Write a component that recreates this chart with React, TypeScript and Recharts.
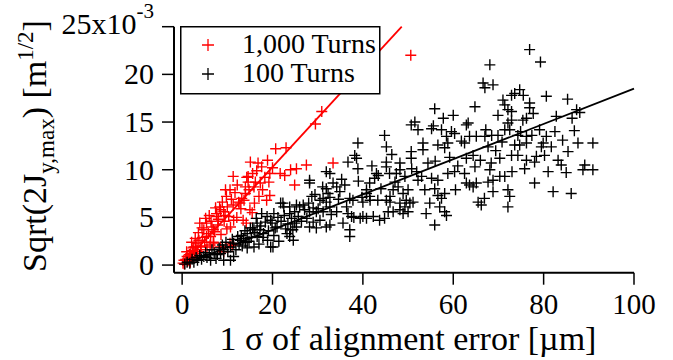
import { ScatterChart, Scatter, XAxis, YAxis, ReferenceLine } from "recharts";

// sqrt(2Jy,max) [x10^-3 m^1/2] vs 1 sigma alignment error [um]
const TURNS_1000: [number, number][] = [
  [0.2,0.2],[0.4,0.5],[0.5,0.1],[0.8,0.6],[1.0,1.4],[1.1,0.9],[1.2,0.4],[1.5,0.5],[1.6,1.1],[1.8,0.3],
  [1.9,1.2],[2.0,0.8],[2.1,2.4],[2.2,0.9],[2.3,1.5],[2.4,1.8],[2.6,1.9],[2.8,1.2],[2.9,2.8],[3.0,1.9],
  [3.3,2.3],[3.4,1.4],[3.6,3.4],[3.7,2.6],[3.9,4.4],[4.1,1.6],[4.2,2.0],[4.4,3.9],[4.5,2.9],[4.8,3.7],
  [5.0,2.4],[5.2,4.9],[5.4,4.4],[5.4,3.0],[5.5,1.9],[5.8,3.3],[6.0,5.2],[6.2,2.1],[6.3,3.0],[6.4,4.6],
  [6.6,4.0],[6.9,2.4],[6.9,3.7],[7.0,2.3],[7.2,3.5],[7.4,6.0],[7.6,5.4],[7.7,5.1],[7.9,4.2],[8.0,4.8],
  [8.3,6.1],[8.5,5.8],[8.5,1.9],[8.6,3.2],[8.9,6.6],[9.2,5.6],[9.2,1.4],[9.3,4.6],[9.5,5.2],[9.6,7.9],
  [9.8,7.2],[9.9,3.8],[10.0,6.1],[10.3,5.1],[10.6,7.9],[10.6,2.3],[10.7,4.0],[10.9,6.9],[11.1,2.1],[11.3,9.3],
  [11.3,6.3],[11.4,4.7],[11.7,7.6],[12.1,5.0],[12.2,8.4],[12.5,6.6],[12.8,6.5],[13.0,5.9],[13.2,7.0],[13.5,4.7],
  [13.7,6.8],[14.0,7.5],[14.0,8.2],[14.2,4.4],[14.3,9.2],[14.6,9.3],[14.6,8.7],[14.8,7.9],[15.0,5.8],[15.1,10.8],
  [15.5,5.5],[15.6,9.6],[15.9,8.2],[16.0,6.5],[16.2,8.7],[16.5,9.9],[16.8,10.7],[17.0,7.2],[17.3,8.6],[17.6,10.3],
  [17.8,7.9],[18.3,9.2],[18.7,6.8],[18.9,11.0],[19.2,8.7],[19.4,9.6],[19.4,7.3],[20.0,10.2],[20.7,12.2],[21.7,9.6],
  [22.7,9.4],[23.0,12.3],[24.0,10.0],[24.9,8.4],[25.3,10.1],[27.5,10.5],[29.5,14.8],[30.9,16.1],[33.4,10.7],[50.6,22.0],
];

const TURNS_100: [number, number][] = [
  [0.6,0.1],[1.1,0.3],[1.7,0.2],[2.2,0.6],[2.6,0.3],[3.1,0.8],[3.4,0.5],[3.9,1.0],[4.3,0.6],[4.8,0.9],
  [5.2,1.3],[5.5,0.8],[6.0,1.1],[6.3,0.5],[6.6,1.6],[7.1,1.2],[7.5,0.7],[7.8,1.1],[8.2,1.8],[8.5,1.2],
  [8.9,2.1],[9.2,1.6],[9.2,0.5],[9.7,2.4],[10.1,1.4],[10.7,1.9],[10.7,0.5],[11.1,2.7],[11.4,2.3],[11.4,0.9],
  [11.9,1.6],[12.3,3.0],[12.6,2.2],[12.9,2.6],[13.1,3.1],[13.3,2.0],[13.6,2.8],[13.9,3.6],[14.0,2.4],[14.4,3.3],
  [14.4,1.8],[14.8,2.5],[15.1,3.9],[15.3,2.9],[15.6,3.9],[15.9,3.7],[15.9,1.9],[16.1,3.4],[16.4,4.9],[16.6,4.4],
  [16.6,3.0],[17.0,2.2],[17.2,3.7],[17.4,4.1],[17.6,5.4],[17.9,2.9],[18.0,3.3],[18.4,4.5],[18.8,5.1],[18.9,2.6],
  [19.1,3.6],[19.6,4.7],[19.6,1.9],[19.9,4.4],[20.1,1.9],[20.3,5.4],[20.3,3.1],[20.6,3.9],[21.0,4.0],[21.2,5.0],
  [21.4,2.5],[21.8,6.5],[21.9,4.6],[22.3,6.5],[22.5,6.1],[22.6,5.2],[22.9,3.8],[23.2,3.3],[23.4,4.3],[23.8,5.4],
  [23.8,3.0],[23.8,6.1],[24.0,3.7],[24.2,4.9],[24.5,3.7],[24.6,2.6],[24.9,4.4],[24.9,5.6],[25.3,4.0],[25.3,6.3],
  [25.7,5.1],[26.0,6.1],[26.4,4.6],[26.8,6.3],[27.1,5.8],[27.6,4.9],[28.0,6.5],[28.2,5.6],[28.2,4.0],[28.2,8.9],
  [28.2,8.6],[28.7,7.2],[29.0,4.5],[29.0,6.0],[29.4,7.4],[29.7,5.6],[29.7,3.9],[30.1,5.9],[30.5,4.7],[30.5,6.8],
  [31.1,8.2],[31.2,5.6],[31.2,7.0],[31.9,9.8],[31.9,8.0],[31.9,6.6],[31.9,4.0],[32.3,7.5],[32.7,9.6],[32.7,7.1],
  [32.7,6.1],[32.7,4.2],[33.0,5.3],[33.4,8.6],[34.2,8.2],[34.2,5.6],[34.6,6.9],[34.9,7.7],[35.3,9.0],[35.6,4.4],
  [36.0,8.4],[36.4,6.1],[36.7,10.8],[36.7,5.4],[37.1,7.0],[37.1,3.7],[37.1,3.0],[37.5,5.1],[37.8,6.8],[38.0,5.0],
  [38.2,11.5],[38.6,11.2],[38.9,12.8],[38.9,10.1],[39.0,8.8],[39.4,4.9],[39.8,7.1],[40.0,6.6],[40.0,5.1],[40.8,7.9],
  [40.8,7.5],[40.8,4.9],[41.5,8.6],[41.5,7.2],[41.6,6.8],[42.0,10.4],[42.3,5.1],[42.6,9.1],[43.0,9.6],[43.3,6.8],
  [43.4,9.4],[43.7,4.7],[44.0,8.0],[44.8,13.6],[44.8,4.9],[45.2,12.4],[45.2,10.8],[45.2,10.3],[45.2,6.8],[45.6,5.6],
  [45.9,9.6],[46.0,7.2],[46.0,6.6],[46.4,11.6],[46.7,7.9],[46.7,5.6],[47.1,8.7],[47.4,9.6],[47.8,8.2],[48.2,10.7],
  [48.2,10.0],[48.2,6.5],[48.2,5.8],[48.9,7.5],[48.9,5.4],[49.3,9.3],[49.3,6.1],[49.6,6.8],[50.0,7.9],[50.0,5.6],
  [50.4,6.5],[50.7,14.7],[50.7,11.9],[50.7,11.2],[50.8,10.1],[51.1,6.6],[51.5,15.0],[51.9,9.8],[52.2,14.2],[52.2,8.9],
  [53.0,9.3],[53.3,12.8],[53.3,12.1],[53.7,7.9],[54.0,5.4],[54.4,10.7],[54.8,6.5],[55.2,14.3],[55.2,9.1],[55.6,14.6],
  [55.9,16.4],[55.9,8.0],[55.9,4.2],[56.0,10.9],[56.6,12.6],[56.6,8.9],[56.6,7.3],[57.0,6.1],[57.4,14.2],[57.4,7.0],
  [57.8,15.4],[58.1,12.3],[58.1,7.5],[58.1,5.6],[58.5,13.5],[58.5,5.2],[58.8,12.8],[58.8,9.6],[59.2,11.3],[59.6,14.0],
  [60.0,15.7],[60.3,13.8],[60.3,9.8],[60.5,7.9],[61.0,10.4],[61.8,13.0],[62.5,12.8],[62.5,9.6],[62.9,14.7],[62.9,11.2],
  [62.9,8.6],[63.3,14.9],[63.6,13.5],[63.6,8.4],[64.4,11.5],[64.4,8.2],[64.8,16.6],[64.8,10.3],[65.1,13.5],[65.1,8.6],
  [65.5,6.6],[66.0,11.0],[66.2,6.3],[66.6,19.1],[66.9,7.0],[67.0,18.6],[67.0,13.5],[67.2,14.2],[67.7,12.4],[67.7,8.7],
  [68.1,21.0],[68.1,10.0],[68.4,10.7],[68.5,13.6],[68.8,18.9],[68.8,8.9],[68.8,7.7],[69.4,12.0],[69.9,15.7],[69.9,13.6],
  [70.3,11.2],[70.3,9.3],[70.8,12.9],[71.0,17.3],[71.4,16.8],[71.4,14.2],[71.4,9.3],[72.1,16.3],[72.1,14.9],[72.1,7.9],
  [72.1,6.1],[72.5,14.2],[72.5,7.2],[72.9,17.8],[72.9,16.1],[72.9,15.2],[72.9,11.5],[73.0,9.8],[73.6,18.0],[73.6,12.6],
  [74.3,13.6],[74.3,11.5],[74.7,18.4],[74.7,12.6],[74.9,14.0],[75.4,15.2],[75.5,17.8],[75.8,10.1],[76.2,15.4],[76.2,13.5],
  [76.2,12.8],[76.2,11.0],[76.9,22.6],[76.9,17.0],[76.9,16.5],[77.4,13.6],[77.7,15.9],[78.0,10.8],[78.0,8.6],[78.4,11.4],
  [79.1,14.2],[79.3,21.3],[79.5,12.4],[79.9,12.8],[80.2,11.5],[80.6,17.7],[80.6,13.5],[81.0,9.8],[81.7,12.4],[82.1,7.7],
  [82.5,14.0],[82.8,15.6],[83.2,11.0],[83.9,10.5],[84.2,13.1],[85.0,9.7],[85.3,17.4],[85.4,11.9],[86.1,7.5],[86.3,15.4],
  [86.8,14.1],[87.3,16.3],[87.6,12.8],[88.0,16.0],[88.7,10.0],[89.1,10.5],[90.9,12.8],[90.9,10.0],
];

// linear fits
const FIT_1000 = [{ x: 0, y: 0 }, { x: 48.6, y: 25 }];
const FIT_100 = [{ x: 0, y: 0 }, { x: 100, y: 18.5 }];

const X_TICKS = [0, 20, 40, 60, 80, 100];
const Y_TICKS = [0, 5, 10, 15, 20, 25];

const FONT = "Liberation Serif, Times New Roman, serif";

const toPts = (arr: [number, number][]) => arr.map(([x, y]) => ({ x, y }));

const plus = (color: string) => (props: any) => {
  const { cx, cy } = props;
  return (
    <path d={`M${cx - 5.5},${cy}H${cx + 5.5}M${cx},${cy - 5.5}V${cy + 5.5}`} stroke={color} strokeWidth={1.4} fill="none" />
  );
};

const XTick = (props: any) => {
  const { x, y, payload } = props;
  return (
    <text x={x} y={y} dy={27} textAnchor="middle" fontSize={29} style={{ fontFamily: FONT }} fill="#000">
      {payload.value}
    </text>
  );
};

const YTick = (props: any) => {
  const { x, y, payload } = props;
  if (payload.value === 25) {
    return (
      <text x={x} y={y} textAnchor="end" fontSize={30} style={{ fontFamily: FONT }} fill="#000">
        <tspan dy={7}>25x10</tspan>
        <tspan dy={-16} fontSize={21}>-3</tspan>
      </text>
    );
  }
  return (
    <text x={x} y={y} dy={10} textAnchor="end" fontSize={30} style={{ fontFamily: FONT }} fill="#000">
      {payload.value}
    </text>
  );
};

const XTitle = () => (
  <text x={408} y={350} textAnchor="middle" fontSize={34} style={{ fontFamily: FONT }} fill="#000">
    1 σ of alignment error [µm]
  </text>
);

const YTitle = () => (
  <text x={46} y={146} transform="rotate(-90 46 146)" textAnchor="middle" fontSize={34} style={{ fontFamily: FONT }} fill="#000">
    Sqrt(2J
    <tspan dy={8} fontSize={23}>y,max</tspan>
    <tspan dy={-8}>) [m</tspan>
    <tspan dy={-13} fontSize={23}>1/2</tspan>
    <tspan dy={13}>]</tspan>
  </text>
);

export default function App() {
  return (
    <div style={{ position: "absolute", left: 0, top: 0, width: 673, height: 360, background: "#fff" }}>
      <ScatterChart width={673} height={360} margin={{ top: 26.7, right: 39, bottom: 0, left: 0 }}>
        <XAxis
          type="number" dataKey="x" domain={[-1.8, 100]} ticks={X_TICKS} allowDataOverflow
          height={87.3} tickSize={12} tickMargin={2} tick={XTick}
          axisLine={{ stroke: "#000", strokeWidth: 2 }} tickLine={{ stroke: "#000", strokeWidth: 1.5 }}
          label={<XTitle />}
        />
        <YAxis
          type="number" dataKey="y" domain={[-0.8, 25]} ticks={Y_TICKS} allowDataOverflow
          width={174} tickSize={12} tickMargin={8} tick={YTick}
          axisLine={{ stroke: "#000", strokeWidth: 2 }} tickLine={{ stroke: "#000", strokeWidth: 1.5 }}
          label={<YTitle />}
        />
        <Scatter name="1,000 Turns" data={toPts(TURNS_1000)} shape={plus("#ff0000")} isAnimationActive={false} />
        <Scatter name="100 Turns" data={toPts(TURNS_100)} shape={plus("#000")} isAnimationActive={false} />
        <ReferenceLine segment={FIT_1000} stroke="#ff0000" strokeWidth={1.8} ifOverflow="visible" />
        <ReferenceLine segment={FIT_100} stroke="#000" strokeWidth={1.8} ifOverflow="visible" />
      </ScatterChart>
      <div style={{ position: "absolute", left: 180, top: 26 }}>
        <svg width={201} height={69}>
          <rect x={0.75} y={0.75} width={199} height={67} fill="#fff" stroke="#000" strokeWidth={1.5} />
          <path d="M22,19H34M28,13V25" stroke="#ff0000" strokeWidth={1.3} fill="none" />
          <path d="M22,48H34M28,42V54" stroke="#000" strokeWidth={1.3} fill="none" />
          <text x={62} y={27} fontSize={28} style={{ fontFamily: FONT }} fill="#000">1,000 Turns</text>
          <text x={62} y={56} fontSize={28} style={{ fontFamily: FONT }} fill="#000">100 Turns</text>
        </svg>
      </div>
    </div>
  );
}
